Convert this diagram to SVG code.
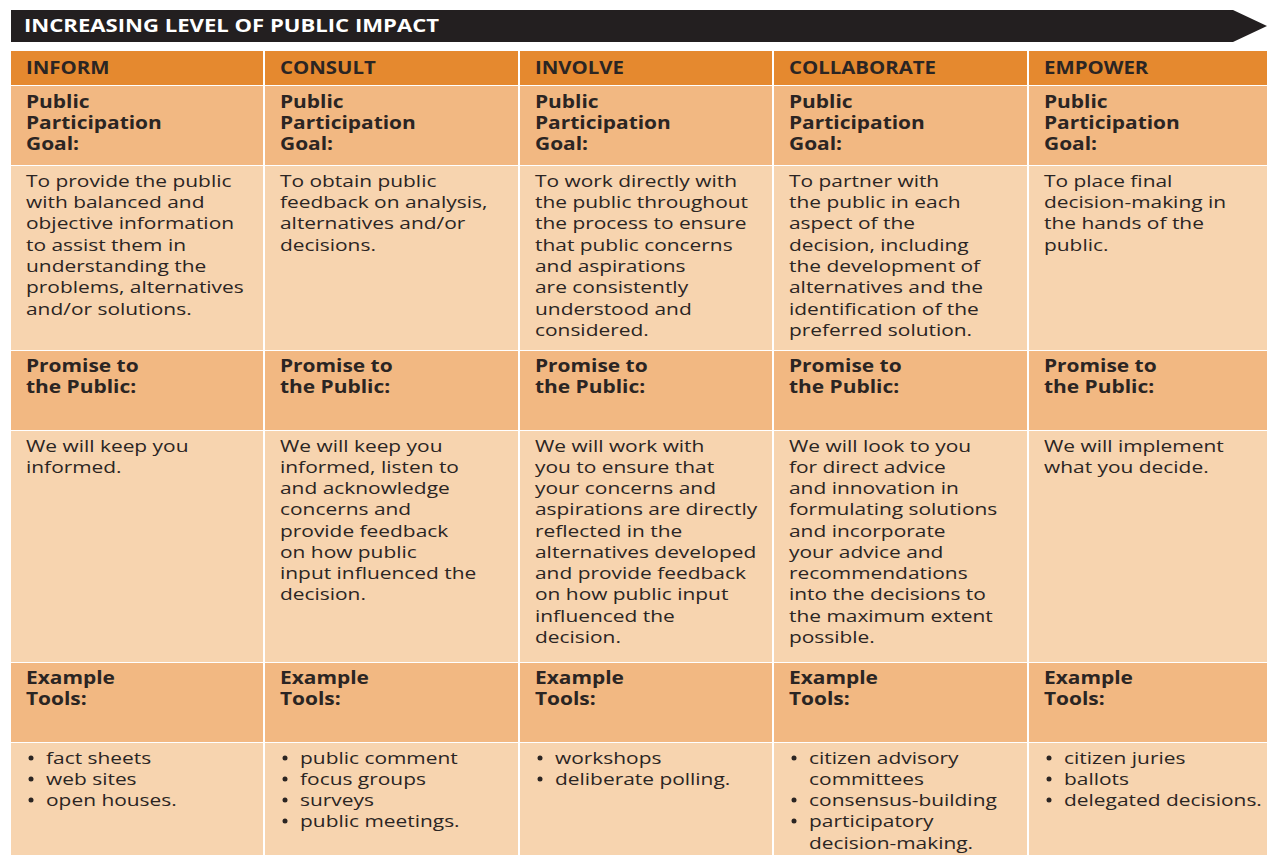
<svg xmlns="http://www.w3.org/2000/svg" width="1267" height="855" viewBox="0 0 1267 855">
<style>
.hd{fill:#E5892F}
.lb{fill:#F2B882}
.ct{fill:#F7D4AF}
text{font-family:"Open Sans","Liberation Sans",sans-serif;fill:#2B2523}
.h{font-size:17px;font-weight:bold}
.b{font-size:17px;font-weight:bold}
.t{font-size:17px}
.ti{font-size:17px;font-weight:bold;fill:#FFFFFF}
.bu{fill:#2B2523}
</style>
<rect x="0" y="0" width="1267" height="855" fill="#FFFFFF"/>
<g id="banner">
<polygon points="11,10 1233,10 1267,26 1233,42 11,42" fill="#231F20"/>
<text class="ti" transform="translate(24,32) scale(1.3,1)" x="0" y="0">INCREASING LEVEL OF PUBLIC IMPACT</text>
</g>
<g id="grid">
<rect class="hd" x="11" y="51" width="1256" height="34"/>
<rect class="lb" x="11" y="86" width="1256" height="79"/>
<rect class="ct" x="11" y="166" width="1256" height="184"/>
<rect class="lb" x="11" y="351" width="1256" height="79"/>
<rect class="ct" x="11" y="431" width="1256" height="231"/>
<rect class="lb" x="11" y="663" width="1256" height="79"/>
<rect class="ct" x="11" y="743" width="1256" height="112"/>
<g fill="#FFFFFF">
<rect x="263" y="51" width="2" height="804"/>
<rect x="518" y="51" width="2" height="804"/>
<rect x="772" y="51" width="2" height="804"/>
<rect x="1027" y="51" width="2" height="804"/>
</g>
</g>
<g id="inform">
<text class="h" transform="translate(26,74) scale(1.2,1)">INFORM</text>
<g transform="translate(26,0) scale(1.23,1)">
<text class="b" x="0" y="108">Public</text><text class="b" x="0" y="129">Participation</text><text class="b" x="0" y="150">Goal:</text>
<text class="t"><tspan x="0" y="187">To provide the public</tspan><tspan x="0" y="208">with balanced and</tspan><tspan x="0" y="229">objective information</tspan><tspan x="0" y="251">to assist them in</tspan><tspan x="0" y="272">understanding the</tspan><tspan x="0" y="293">problems, alternatives</tspan><tspan x="0" y="315">and/or solutions.</tspan></text>
<text class="b" x="0" y="372">Promise to</text><text class="b" x="0" y="393">the Public:</text>
<text class="t"><tspan x="0" y="452">We will keep you</tspan><tspan x="0" y="473">informed.</tspan></text>
<text class="b" x="0" y="684">Example</text><text class="b" x="0" y="705">Tools:</text>
<text class="t"><tspan x="16.3" y="764">fact sheets</tspan><tspan x="16.3" y="785">web sites</tspan><tspan x="16.3" y="806">open houses.</tspan></text>
</g>
<circle class="bu" cx="31" cy="758" r="2.5"/><circle class="bu" cx="31" cy="779" r="2.5"/><circle class="bu" cx="31" cy="800" r="2.5"/>
</g>
<g id="consult">
<text class="h" transform="translate(280,74) scale(1.2,1)">CONSULT</text>
<g transform="translate(280,0) scale(1.23,1)">
<text class="b" x="0" y="108">Public</text><text class="b" x="0" y="129">Participation</text><text class="b" x="0" y="150">Goal:</text>
<text class="t"><tspan x="0" y="187">To obtain public</tspan><tspan x="0" y="208">feedback on analysis,</tspan><tspan x="0" y="229">alternatives and/or</tspan><tspan x="0" y="251">decisions.</tspan></text>
<text class="b" x="0" y="372">Promise to</text><text class="b" x="0" y="393">the Public:</text>
<text class="t"><tspan x="0" y="452">We will keep you</tspan><tspan x="0" y="473">informed, listen to</tspan><tspan x="0" y="494">and acknowledge</tspan><tspan x="0" y="515">concerns and</tspan><tspan x="0" y="537">provide feedback</tspan><tspan x="0" y="558">on how public</tspan><tspan x="0" y="579">input influenced the</tspan><tspan x="0" y="600">decision.</tspan></text>
<text class="b" x="0" y="684">Example</text><text class="b" x="0" y="705">Tools:</text>
<text class="t"><tspan x="16.3" y="764">public comment</tspan><tspan x="16.3" y="785">focus groups</tspan><tspan x="16.3" y="806">surveys</tspan><tspan x="16.3" y="827">public meetings.</tspan></text>
</g>
<circle class="bu" cx="285" cy="758" r="2.5"/><circle class="bu" cx="285" cy="779" r="2.5"/><circle class="bu" cx="285" cy="800" r="2.5"/><circle class="bu" cx="285" cy="821" r="2.5"/>
</g>
<g id="involve">
<text class="h" transform="translate(535,74) scale(1.2,1)">INVOLVE</text>
<g transform="translate(535,0) scale(1.23,1)">
<text class="b" x="0" y="108">Public</text><text class="b" x="0" y="129">Participation</text><text class="b" x="0" y="150">Goal:</text>
<text class="t"><tspan x="0" y="187">To work directly with</tspan><tspan x="0" y="208">the public throughout</tspan><tspan x="0" y="229">the process to ensure</tspan><tspan x="0" y="251">that public concerns</tspan><tspan x="0" y="272">and aspirations</tspan><tspan x="0" y="293">are consistently</tspan><tspan x="0" y="315">understood and</tspan><tspan x="0" y="336">considered.</tspan></text>
<text class="b" x="0" y="372">Promise to</text><text class="b" x="0" y="393">the Public:</text>
<text class="t"><tspan x="0" y="452">We will work with</tspan><tspan x="0" y="473">you to ensure that</tspan><tspan x="0" y="494">your concerns and</tspan><tspan x="0" y="515">aspirations are directly</tspan><tspan x="0" y="537">reflected in the</tspan><tspan x="0" y="558">alternatives developed</tspan><tspan x="0" y="579">and provide feedback</tspan><tspan x="0" y="600">on how public input</tspan><tspan x="0" y="622">influenced the</tspan><tspan x="0" y="643">decision.</tspan></text>
<text class="b" x="0" y="684">Example</text><text class="b" x="0" y="705">Tools:</text>
<text class="t"><tspan x="16.3" y="764">workshops</tspan><tspan x="16.3" y="785">deliberate polling.</tspan></text>
</g>
<circle class="bu" cx="540" cy="758" r="2.5"/><circle class="bu" cx="540" cy="779" r="2.5"/>
</g>
<g id="collaborate">
<text class="h" transform="translate(789,74) scale(1.2,1)">COLLABORATE</text>
<g transform="translate(789,0) scale(1.23,1)">
<text class="b" x="0" y="108">Public</text><text class="b" x="0" y="129">Participation</text><text class="b" x="0" y="150">Goal:</text>
<text class="t"><tspan x="0" y="187">To partner with</tspan><tspan x="0" y="208">the public in each</tspan><tspan x="0" y="229">aspect of the</tspan><tspan x="0" y="251">decision, including</tspan><tspan x="0" y="272">the development of</tspan><tspan x="0" y="293">alternatives and the</tspan><tspan x="0" y="315">identification of the</tspan><tspan x="0" y="336">preferred solution.</tspan></text>
<text class="b" x="0" y="372">Promise to</text><text class="b" x="0" y="393">the Public:</text>
<text class="t"><tspan x="0" y="452">We will look to you</tspan><tspan x="0" y="473">for direct advice</tspan><tspan x="0" y="494">and innovation in</tspan><tspan x="0" y="515">formulating solutions</tspan><tspan x="0" y="537">and incorporate</tspan><tspan x="0" y="558">your advice and</tspan><tspan x="0" y="579">recommendations</tspan><tspan x="0" y="600">into the decisions to</tspan><tspan x="0" y="622">the maximum extent</tspan><tspan x="0" y="643">possible.</tspan></text>
<text class="b" x="0" y="684">Example</text><text class="b" x="0" y="705">Tools:</text>
<text class="t"><tspan x="16.3" y="764">citizen advisory</tspan><tspan x="16.3" y="785">committees</tspan><tspan x="16.3" y="806">consensus-building</tspan><tspan x="16.3" y="827">participatory</tspan><tspan x="16.3" y="849">decision-making.</tspan></text>
</g>
<circle class="bu" cx="794" cy="758" r="2.5"/><circle class="bu" cx="794" cy="800" r="2.5"/><circle class="bu" cx="794" cy="821" r="2.5"/>
</g>
<g id="empower">
<text class="h" transform="translate(1044,74) scale(1.2,1)">EMPOWER</text>
<g transform="translate(1044,0) scale(1.23,1)">
<text class="b" x="0" y="108">Public</text><text class="b" x="0" y="129">Participation</text><text class="b" x="0" y="150">Goal:</text>
<text class="t"><tspan x="0" y="187">To place final</tspan><tspan x="0" y="208">decision-making in</tspan><tspan x="0" y="229">the hands of the</tspan><tspan x="0" y="251">public.</tspan></text>
<text class="b" x="0" y="372">Promise to</text><text class="b" x="0" y="393">the Public:</text>
<text class="t"><tspan x="0" y="452">We will implement</tspan><tspan x="0" y="473">what you decide.</tspan></text>
<text class="b" x="0" y="684">Example</text><text class="b" x="0" y="705">Tools:</text>
<text class="t"><tspan x="16.3" y="764">citizen juries</tspan><tspan x="16.3" y="785">ballots</tspan><tspan x="16.3" y="806">delegated decisions.</tspan></text>
</g>
<circle class="bu" cx="1049" cy="758" r="2.5"/><circle class="bu" cx="1049" cy="779" r="2.5"/><circle class="bu" cx="1049" cy="800" r="2.5"/>
</g>
</svg>
